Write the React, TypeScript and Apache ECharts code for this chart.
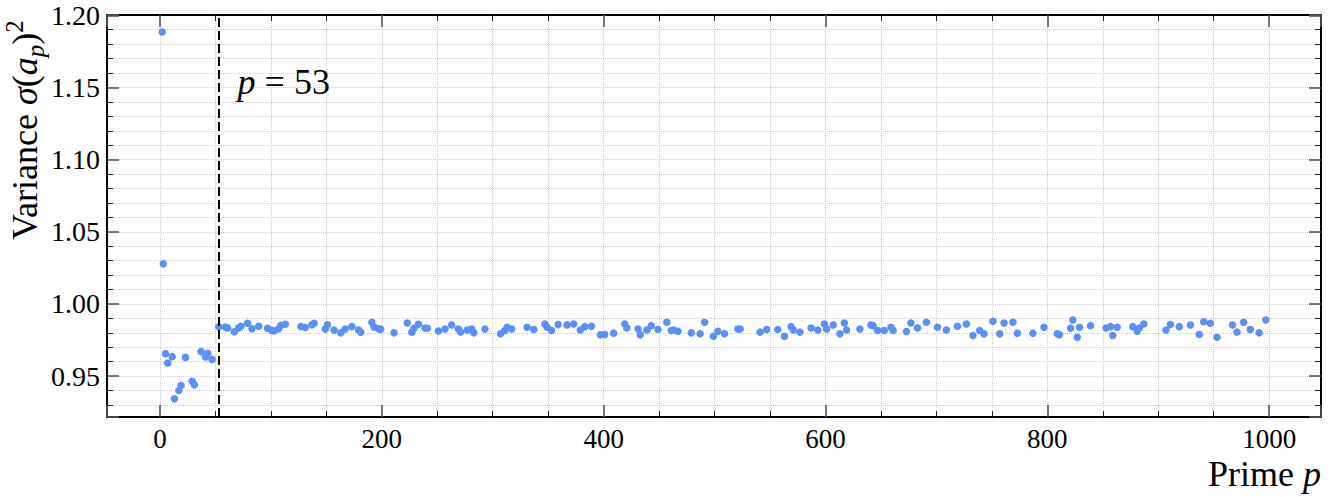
import React, { useEffect, useRef } from 'react';
import * as echarts from 'echarts';

// Prime p (x values)
const PRIMES: number[] = [
  2, 3, 5, 7, 11, 13, 17, 19, 23, 29,
  31, 37, 41, 43, 47, 53, 59, 61, 67, 71,
  73, 79, 83, 89, 97, 101, 103, 107, 109, 113,
  127, 131, 137, 139, 149, 151, 157, 163, 167, 173,
  179, 181, 191, 193, 197, 199, 211, 223, 227, 229,
  233, 239, 241, 251, 257, 263, 269, 271, 277, 281,
  283, 293, 307, 311, 313, 317, 331, 337, 347, 349,
  353, 359, 367, 373, 379, 383, 389, 397, 401, 409,
  419, 421, 431, 433, 439, 443, 449, 457, 461, 463,
  467, 479, 487, 491, 499, 503, 509, 521, 523, 541,
  547, 557, 563, 569, 571, 577, 587, 593, 599, 601,
  607, 613, 617, 619, 631, 641, 643, 647, 653, 659,
  661, 673, 677, 683, 691, 701, 709, 719, 727, 733,
  739, 743, 751, 757, 761, 769, 773, 787, 797, 809,
  811, 821, 823, 827, 829, 839, 853, 857, 859, 863,
  877, 881, 883, 887, 907, 911, 919, 929, 937, 941,
  947, 953, 967, 971, 977, 983, 991, 997,
];

// Variance sigma(a_p)^2 (y values)
const VARIANCE: number[] = [
  1.1884, 1.0278, 0.9656, 0.9591, 0.9635, 0.9344, 0.9400, 0.9435, 0.9630, 0.9465,
  0.9440, 0.9670, 0.9633, 0.9658, 0.9616, 0.9843, 0.9840, 0.9834, 0.9808, 0.9834,
  0.9845, 0.9867, 0.9828, 0.9846, 0.9831, 0.9817, 0.9815, 0.9828, 0.9853, 0.9860,
  0.9844, 0.9837, 0.9856, 0.9867, 0.9826, 0.9856, 0.9819, 0.9800, 0.9826, 0.9844,
  0.9820, 0.9804, 0.9873, 0.9840, 0.9828, 0.9825, 0.9800, 0.9868, 0.9804, 0.9830,
  0.9859, 0.9834, 0.9832, 0.9813, 0.9827, 0.9855, 0.9827, 0.9805, 0.9820, 0.9827,
  0.9800, 0.9827, 0.9793, 0.9816, 0.9839, 0.9827, 0.9839, 0.9823, 0.9861, 0.9839,
  0.9816, 0.9857, 0.9855, 0.9861, 0.9820, 0.9843, 0.9845, 0.9786, 0.9789, 0.9798,
  0.9861, 0.9834, 0.9827, 0.9786, 0.9820, 0.9850, 0.9823, 0.9873, 0.9816, 0.9820,
  0.9811, 0.9800, 0.9793, 0.9873, 0.9777, 0.9811, 0.9793, 0.9827, 0.9827, 0.9805,
  0.9823, 0.9823, 0.9777, 0.9843, 0.9820, 0.9805, 0.9834, 0.9820, 0.9861, 0.9827,
  0.9855, 0.9793, 0.9868, 0.9820, 0.9827, 0.9855, 0.9850, 0.9816, 0.9816, 0.9839,
  0.9816, 0.9809, 0.9868, 0.9834, 0.9873, 0.9839, 0.9820, 0.9845, 0.9861, 0.9782,
  0.9816, 0.9793, 0.9880, 0.9793, 0.9868, 0.9873, 0.9798, 0.9798, 0.9839, 0.9793,
  0.9786, 0.9832, 0.9889, 0.9770, 0.9839, 0.9850, 0.9834, 0.9843, 0.9782, 0.9839,
  0.9843, 0.9811, 0.9834, 0.9861, 0.9820, 0.9857, 0.9843, 0.9855, 0.9789, 0.9877,
  0.9866, 0.9770, 0.9855, 0.9805, 0.9873, 0.9823, 0.9800, 0.9889,
];

const X_RANGE = [-47.75, 1046.75];
const Y_RANGE = [0.9217, 1.2002];
const THRESHOLD_P = 53;
const ANNOTATION_POS = [70, 1.154];
const ANNOTATION_VALUE = '53';
const X_LABEL = 'Prime ';
const Y_LABEL = 'Variance ';

const W = 1329;
const H = 497;
const GRID = { left: 107, top: 15, right: 8, bottom: 80 };
const SERIF = 'Liberation Serif';
const DOT = '#5b8ff9';

export default function App() {
  const ref = useRef<HTMLDivElement>(null);

  useEffect(() => {
    const chart = echarts.init(ref.current!, null, { renderer: 'svg', width: W, height: H });
    const points = PRIMES.map((p, i) => [p, VARIANCE[i]]);

    const axisLine = { show: true, onZero: false, lineStyle: { color: '#000', width: 2 } };
    const majorTick = { show: true, inside: true, length: 12, lineStyle: { color: '#555', width: 1.6 } };
    const minorTickBase = { show: true, length: 6, lineStyle: { color: '#222', width: 1 } };
    const gridLine = { show: true, lineStyle: { color: '#cdcdcd', type: 'dotted', width: 1 } };

    chart.setOption({
      animation: false,
      backgroundColor: '#fff',
      textStyle: { fontFamily: SERIF },
      grid: { ...GRID, containLabel: false },
      xAxis: [
        {
          type: 'value', position: 'bottom', min: X_RANGE[0], max: X_RANGE[1],
          axisLine, axisTick: majorTick,
          minorTick: { ...minorTickBase, splitNumber: 4 },
          splitLine: gridLine, minorSplitLine: gridLine,
          axisLabel: {
            fontFamily: SERIF, fontSize: 27, color: '#000',
            margin: 8, showMinLabel: false, showMaxLabel: false,
            formatter: (v: number) => String(Math.round(v)),
          },
        },
        {
          type: 'value', position: 'top', min: X_RANGE[0], max: X_RANGE[1],
          axisLine, axisTick: majorTick,
          minorTick: { ...minorTickBase, splitNumber: 4 },
          splitLine: { show: false }, axisLabel: { show: false },
        },
      ],
      yAxis: [
        {
          type: 'value', position: 'left', min: Y_RANGE[0], max: Y_RANGE[1],
          axisLine, axisTick: majorTick,
          minorTick: { ...minorTickBase, splitNumber: 5 },
          splitLine: gridLine, minorSplitLine: gridLine,
          axisLabel: {
            fontFamily: SERIF, fontSize: 28, color: '#000',
            margin: 7, showMinLabel: false, showMaxLabel: false,
            formatter: (v: number) => v.toFixed(2),
          },
        },
        {
          type: 'value', position: 'right', min: Y_RANGE[0], max: Y_RANGE[1],
          axisLine, axisTick: majorTick,
          minorTick: { ...minorTickBase, splitNumber: 5 },
          splitLine: { show: false }, axisLabel: { show: false },
        },
      ],
      series: [
        {
          type: 'scatter',
          xAxisIndex: 0,
          yAxisIndex: 0,
          data: points,
          symbolSize: 7.5,
          itemStyle: { color: DOT, opacity: 1 },
          emphasis: { disabled: true },
          markLine: {
            silent: true,
            symbol: ['none', 'none'],
            label: { show: false },
            lineStyle: { color: '#000', width: 2, type: [9, 4] },
            data: [{ xAxis: THRESHOLD_P }],
          },
          z: 3,
        },
      ],
    });

    const [ax, ay] = chart.convertToPixel({ seriesIndex: 0 }, ANNOTATION_POS) as number[];
    const plotRight = W - GRID.right;
    const plotBottom = H - GRID.bottom;

    chart.setOption({
      graphic: [
        {
          type: 'text',
          x: ax,
          y: ay,
          z: 10,
          style: {
            text: `{i|p}{r| = ${ANNOTATION_VALUE}}`,
            align: 'left',
            verticalAlign: 'middle',
            fontFamily: SERIF,
            rich: {
              i: { fontFamily: SERIF, fontSize: 36, fontStyle: 'italic', fill: '#000' },
              r: { fontFamily: SERIF, fontSize: 36, fill: '#000' },
            },
          },
        },
        {
          type: 'text',
          x: plotRight,
          y: plotBottom + 74,
          z: 10,
          style: {
            text: `{r|${X_LABEL}}{i|p}`,
            align: 'right',
            verticalAlign: 'bottom',
            fontFamily: SERIF,
            rich: {
              r: { fontFamily: SERIF, fontSize: 36, lineHeight: 34, fill: '#000' },
              i: { fontFamily: SERIF, fontSize: 36, lineHeight: 34, fontStyle: 'italic', fill: '#000' },
            },
          },
        },
        {
          type: 'text',
          x: 25,
          y: 240,
          rotation: Math.PI / 2,
          z: 10,
          style: {
            text: `{r|${Y_LABEL}}{i|σ}{r|(}{i|a}{s|p}{r|)}{u|2}`,
            align: 'left',
            verticalAlign: 'middle',
            fontFamily: SERIF,
            rich: {
              r: { fontFamily: SERIF, fontSize: 36, lineHeight: 46, fill: '#000' },
              i: { fontFamily: SERIF, fontSize: 36, lineHeight: 46, fontStyle: 'italic', fill: '#000' },
              s: { fontFamily: SERIF, fontSize: 25, lineHeight: 29, fontStyle: 'italic', verticalAlign: 'bottom', fill: '#000' },
              u: { fontFamily: SERIF, fontSize: 25, lineHeight: 27, verticalAlign: 'top', fill: '#000' },
            },
          },
        },
      ],
    });

    return () => chart.dispose();
  }, []);

  return (
    <div
      ref={ref}
      style={{ position: 'fixed', left: 0, top: 0, width: W, height: H, background: '#fff' }}
    />
  );
}
